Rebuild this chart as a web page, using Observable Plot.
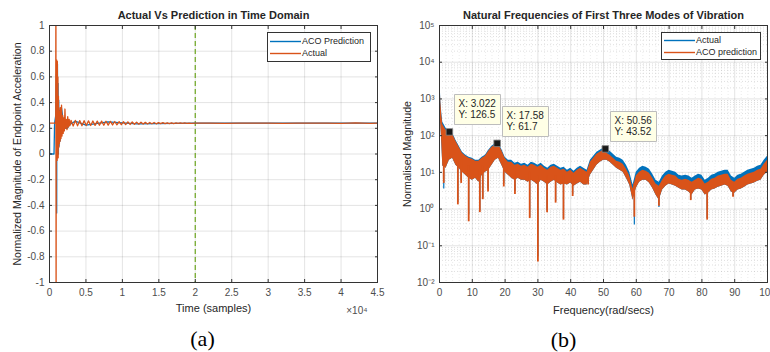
<!DOCTYPE html>
<html><head><meta charset="utf-8">
<script src="https://cdn.jsdelivr.net/npm/d3@7"></script>
<script src="https://cdn.jsdelivr.net/npm/@observablehq/plot@0.6"></script>
<style>
html,body{margin:0;padding:0;background:#fff;}
body{width:770px;height:352px;overflow:hidden;position:relative;font-family:"Liberation Sans",Arial,sans-serif;}
.panel{position:absolute;top:0;}
.legend{position:absolute;background:#fff;border:1px solid #333;font-size:9px;color:#262626;box-sizing:border-box;}
.row{position:absolute;left:0;height:12px;line-height:12px;white-space:nowrap;}
.row svg{position:absolute;left:2px;top:0;}
.row span.tx{position:absolute;left:34px;top:0;}
</style></head><body>
<div class="panel" id="left" style="left:0"></div>
<div class="panel" id="right" style="left:385px"></div>
<div class="legend" style="left:267px;top:32px;width:104px;height:30px">
  <div class="row" style="top:2px"><svg width="31" height="12"><line x1="0" x2="31" y1="6.5" y2="6.5" stroke="#0072BD" stroke-width="1.4"/></svg><span class="tx">ACO Prediction</span></div>
  <div class="row" style="top:14px"><svg width="31" height="12"><line x1="0" x2="31" y1="6.5" y2="6.5" stroke="#D95319" stroke-width="1.4"/></svg><span class="tx">Actual</span></div>
</div>
<div class="legend" style="left:661px;top:32px;width:100px;height:28px">
  <div class="row" style="top:1px"><svg width="31" height="12"><line x1="0" x2="31" y1="6.5" y2="6.5" stroke="#0072BD" stroke-width="1.4"/></svg><span class="tx">Actual</span></div>
  <div class="row" style="top:13px"><svg width="31" height="12"><line x1="0" x2="31" y1="6.5" y2="6.5" stroke="#D95319" stroke-width="1.4"/></svg><span class="tx">ACO prediction</span></div>
</div>
<script>
// ---------- Panel (a): time domain ----------
const timeTicks = [0, 5000, 10000, 15000, 20000, 25000, 30000, 35000, 40000, 45000];
const accTicks = [-1, -0.8, -0.6, -0.4, -0.2, 0, 0.2, 0.4, 0.6, 0.8, 1];
const dashTime = [20000];

const actualT = [0, 850, 880, 905, 930, 965, 1000, 1040, 1075, 1110, 1150, 1190, 1230, 1270, 1310, 1360, 1410, 1460, 1520, 1580, 1650, 1720, 1800, 1880, 1960, 2040, 2120, 2200, 2300, 2400, 2500, 2600, 2700, 2800,
  2950, 3250, 3550, 3850, 4150, 4450, 4750, 5050, 5350, 5650, 5950, 6250, 6550, 6850, 7150, 7450, 7750, 8050, 8350, 8650, 8950, 9250, 9550, 9850, 10150, 10450, 10750, 11050, 11350, 11650, 11950, 12250, 12550, 12850, 13150, 13450, 13750, 14050, 14350, 14650, 14950, 15250, 15550, 15850, 16150, 16450, 16750, 17050, 17350, 17650, 17950, 18250, 18550, 18850, 19150, 19450,
  20000, 22000, 24000, 26000, 28000, 30000, 32000, 34000, 36000, 38000, 40000, 42000, 44000, 45000];
const actualV = [0.24, 0.24, 1.3, -1.3, 0.73, -0.02, 0.73, -0.05, 0.72, 0.02, 0.6, -0.03, 0.45, 0.05, 0.36, 0.08, 0.33, 0.1, 0.36, 0.12, 0.38, 0.14, 0.3, 0.16, 0.28, 0.18, 0.35, 0.2, 0.27, 0.19, 0.29, 0.21, 0.27, 0.22,
  0.262, 0.218, 0.261, 0.219, 0.26, 0.22, 0.259, 0.221, 0.258, 0.222, 0.257, 0.223, 0.256, 0.224, 0.256, 0.224, 0.255, 0.225, 0.254, 0.226, 0.253, 0.227, 0.252, 0.228, 0.251, 0.229, 0.25, 0.23, 0.249, 0.231, 0.248, 0.232, 0.247, 0.233, 0.246, 0.234, 0.245, 0.235, 0.245, 0.235, 0.244, 0.236, 0.244, 0.236, 0.243, 0.237, 0.243, 0.237, 0.242, 0.238, 0.242, 0.238, 0.242, 0.238, 0.241, 0.239,
  0.24, 0.241, 0.239, 0.241, 0.24, 0.241, 0.239, 0.241, 0.24, 0.241, 0.239, 0.242, 0.238, 0.241];

const predT = [0, 15, 620, 700, 860, 940, 985, 1010, 1050, 1090, 1130, 1170, 1220, 1260, 1310, 1370, 1440, 1530, 1650, 1800, 2000, 2400, 2800, 3500, 5000, 8000, 12000, 20000, 45000];
const predV = [0.24, 0, 0, 0.24, 0.3, 0.62, -0.46, 0.7, 0.0, 0.7, 0.05, 0.55, 0.0, 0.42, 0.06, 0.34, 0.1, 0.35, 0.36, 0.29, 0.2, 0.2, 0.23, 0.255, 0.225, 0.25, 0.235, 0.24, 0.24];

// ---------- Panel (b): frequency domain ----------
const freq = [0, 0.2, 0.4, 0.7, 1, 2, 3, 4, 5, 6, 7, 8, 9, 10, 11, 12, 13, 14, 15, 16, 17, 18, 19, 20, 21, 22, 23, 24, 25, 26, 27, 28, 29, 30, 31, 32, 33, 34, 35, 36, 37, 38, 39, 40, 41, 42, 43, 44, 45, 46, 47, 48, 49, 50, 51, 52, 53, 54, 55, 56, 57, 58, 59, 60, 61, 62, 63, 64, 65, 66, 67, 68, 69, 70, 71, 72, 73, 74, 75, 76, 77, 78, 79, 80, 81, 82, 83, 84, 85, 86, 87, 88, 89, 90, 91, 92, 93, 94, 95, 96, 97, 98, 99, 100];
const actualHi = [9900, 2500, 900, 400, 230, 159, 127, 116, 75, 51.6, 35.4, 29.4, 25.9, 24.3, 21.5, 21.5, 25.9, 29.4, 40.2, 51.6, 60, 62, 42, 25.9, 21.5, 21.5, 17.8, 18.9, 16.7, 17.8, 15.7, 18.9, 17.8, 15.7, 17.8, 14.7, 13.0, 15.7, 16.7, 14.7, 13.0, 13.8, 11.5, 13.0, 10.8, 13.0, 14.7, 13.0, 11.5, 21.5, 27.6, 35.4, 40.2, 45.5, 42.7, 37.7, 31.3, 25.9, 24.3, 21.5, 15.7, 10.1, 4.5, 10.1, 13.0, 14.7, 13.8, 12.2, 8.9, 6.1, 5.4, 7.9, 10.1, 11.5, 10.8, 10.1, 8.4, 7.9, 8.4, 7.9, 6.95, 7.9, 8.9, 8.4, 6.1, 6.95, 8.4, 8.9, 10.1, 10.8, 11.5, 11.5, 7.9, 6.95, 8.4, 8.9, 10.1, 11.5, 12.2, 13.0, 14.7, 15.7, 21.5, 27.6];
const predHi = [9000, 2200, 800, 350, 200, 140, 115, 109, 70.5, 48.4, 33.3, 27.6, 24.3, 22.9, 20.2, 20.2, 24.3, 27.6, 37.7, 48.4, 56, 58, 39, 24.3, 18.9, 18.9, 15.7, 16.7, 14.7, 15.7, 13.8, 16.7, 15.7, 13.8, 15.7, 13.0, 11.5, 13.8, 14.7, 13.0, 11.5, 12.2, 10.1, 11.5, 9.5, 11.5, 13.0, 11.5, 10.1, 18.9, 24.3, 31.3, 35.4, 40.2, 33.3, 29.4, 24.3, 20.2, 18.9, 16.7, 12.2, 7.9, 3.5, 7.9, 10.1, 11.5, 10.8, 9.5, 6.95, 4.8, 4.2, 6.1, 7.9, 8.9, 8.4, 7.9, 6.5, 6.1, 6.5, 6.1, 5.4, 6.1, 6.95, 6.5, 4.8, 5.4, 6.5, 6.95, 7.9, 8.4, 8.9, 8.9, 6.1, 5.4, 6.5, 6.95, 7.9, 8.9, 9.5, 10.1, 11.5, 12.2, 16.7, 21.5];
const predLo = [400, 300, 200, 60, 15, 13, 21.5, 24.3, 15.7, 13, 10.1, 8.4, 6.95, 6.1, 6.95, 5.4, 8.4, 10.1, 11.5, 15.7, 21.5, 24.3, 15.7, 10.1, 8.4, 6.95, 6.1, 6.95, 6.1, 6.1, 5.4, 6.1, 5.4, 4.5, 6.1, 5.4, 4.5, 5.4, 6.1, 5.1, 4.5, 4.8, 4.5, 5.1, 4.2, 4.8, 5.4, 4.5, 4.5, 8.4, 11.5, 15.7, 18.9, 21.5, 21.5, 18.9, 15.7, 13.0, 11.5, 10.1, 6.95, 4.5, 1.75, 3.7, 5.4, 6.1, 6.1, 5.1, 3.7, 2.4, 1.75, 3.3, 4.2, 4.8, 4.5, 4.2, 3.7, 3.3, 3.3, 2.9, 2.4, 3.3, 3.5, 3.3, 2.4, 2.7, 3.3, 3.5, 3.95, 4.2, 4.5, 4.2, 2.9, 2.7, 3.3, 3.5, 3.95, 4.5, 4.8, 5.1, 5.75, 6.1, 8.4, 10.1];

// deep narrow notches
const dipF = [1.3, 5.6, 6.6, 8.9, 12.3, 13.2, 14.8, 19.6, 23.0, 27.5, 30.0, 32.8, 35.4, 37.8, 40.6, 45.3, 59.4, 66.9, 76.6, 81.6, 89.5];
const dipActual = [3.5, 1.5, 6, 0.7, 0.9, 2, 3.5, 5, 3, 0.6, 0.05, 0.9, 1.6, 0.55, 2.5, 4.8, 0.37, 1.1, 1.8, 0.55, 2.2];
const dipPred = [5, 1.3, 5, 0.45, 0.8, 1.8, 2.9, 4, 2.5, 0.55, 0.036, 0.8, 1.45, 0.5, 2.2, 4.5, 0.6, 1.2, 1.7, 0.5, 2.1];
const dipTop = [60, 20, 30, 15, 12, 15, 15, 20, 10, 10, 8, 8, 8, 8, 8, 10, 5, 4, 5, 5, 5];

const tipX = [3.022, 17.58, 50.56];
const tipY = [126.5, 61.7, 43.52];

const freqTicks = [0, 10, 20, 30, 40, 50, 60, 70, 80, 90, 100];
const magTicks = [1e-2, 1e-1, 1e0, 1e1, 1e2, 1e3, 1e4, 1e5];

// ---------- helpers ----------
const BLUE = "#0072BD", RED = "#D95319", TICKC = "#4d4d4d", INK = "#262626";
const font = "'Liberation Sans', Arial, Helvetica, sans-serif";
const supMap = {"-": "\u207B", "0": "\u2070", "1": "\u00B9", "2": "\u00B2", "3": "\u00B3", "4": "\u2074", "5": "\u2075"};
const sup = s => String(s).split("").map(c => supMap[c] || c).join("");
const tsA = actualT.map((t, i) => ({t, v: actualV[i]}));
const tsP = predT.map((t, i) => ({t, v: predV[i]}));
const spec = freq.map((f, i) => ({f, aHi: actualHi[i], pHi: predHi[i], pLo: predLo[i]}));
const dips = dipF.map((f, i) => ({f, a: dipActual[i], p: dipPred[i], top: dipTop[i]}));
const tips = tipX.map((x, i) => ({x, y: tipY[i]}));

const minorY = [];
for (let e = -2; e < 5; e++) for (let k = 2; k < 10; k++) minorY.push(k * Math.pow(10, e));
const minorX = d3.range(0, 101, 2).filter(d => d % 10 !== 0);

function boxAxes(xt, yt, xfmt, yfmt) {
  return [
    Plot.frame({stroke: "#333", strokeWidth: 1}),
    Plot.axisX(xt, {anchor: "bottom", tickSize: 0, tickPadding: 6, tickFormat: xfmt, label: null, fill: TICKC, fontSize: 10}),
    Plot.axisX(xt, {anchor: "bottom", tickSize: -3, tickFormat: () => "", label: null, stroke: "#333"}),
    Plot.axisX(xt, {anchor: "top", tickSize: -3, tickFormat: () => "", label: null, stroke: "#333"}),
    Plot.axisY(yt, {anchor: "left", tickSize: 0, tickPadding: 5, tickFormat: yfmt, label: null, fill: TICKC, fontSize: 10}),
    Plot.axisY(yt, {anchor: "left", tickSize: -3, tickFormat: () => "", label: null, stroke: "#333"}),
    Plot.axisY(yt, {anchor: "right", tickSize: -3, tickFormat: () => "", label: null, stroke: "#333"})
  ];
}

const left = Plot.plot({
  width: 385, height: 352,
  marginLeft: 49, marginRight: 8, marginTop: 25, marginBottom: 70,
  style: {fontFamily: font, fontSize: "10px", overflow: "visible", background: "transparent", color: INK},
  x: {domain: [0, 45000]},
  y: {domain: [-1, 1]},
  marks: [
    Plot.gridX(timeTicks, {stroke: "#000", strokeOpacity: 0.11}),
    Plot.gridY(accTicks, {stroke: "#000", strokeOpacity: 0.11}),
    Plot.ruleX(dashTime, {stroke: "#77AC30", strokeWidth: 1.3, strokeDasharray: "5,3"}),
    Plot.line(tsP, {x: "t", y: "v", stroke: BLUE, strokeWidth: 1.3, clip: true}),
    Plot.line(tsA, {x: "t", y: "v", stroke: RED, strokeWidth: 1.3, clip: true}),
    ...boxAxes(timeTicks, accTicks, d => String(d / 1e4), d => String(Math.round(d * 10) / 10)),
    Plot.text(["Actual Vs Prediction in Time Domain"], {frameAnchor: "top", dy: -10, lineAnchor: "middle", fontWeight: "bold", fontSize: 11, fill: INK}),
    Plot.text(["Time (samples)"], {frameAnchor: "bottom", dy: 26, lineAnchor: "middle", fontSize: 11, fill: INK}),
    Plot.text(["\u00D710" + sup(4)], {frameAnchor: "bottom-right", dx: -10, dy: 28, lineAnchor: "middle", textAnchor: "end", fontSize: 10, fill: TICKC}),
    Plot.text(["Normalized Magnitude of Endpoint Acceleration"], {frameAnchor: "left", dx: -32, rotate: -90, lineAnchor: "middle", textAnchor: "middle", fontSize: 10.6, fill: INK}),
    Plot.text(["(a)"], {frameAnchor: "bottom", dx: -11, dy: 56, lineAnchor: "middle", fontSize: 22, fontFamily: "'Liberation Serif', 'Times New Roman', serif", fill: "#000"})
  ]
});
document.getElementById("left").appendChild(left);

const right = Plot.plot({
  width: 385, height: 352,
  marginLeft: 54, marginRight: 3, marginTop: 25, marginBottom: 70,
  style: {fontFamily: font, fontSize: "10px", overflow: "visible", background: "transparent", color: INK},
  x: {domain: [0, 100]},
  y: {type: "log", domain: [1e-2, 1e5]},
  marks: [
    Plot.gridY(minorY, {stroke: "#000", strokeOpacity: 0.13, strokeDasharray: "1,2"}),
    Plot.gridX(minorX, {stroke: "#000", strokeOpacity: 0.08, strokeDasharray: "1,2"}),
    Plot.gridX(freqTicks, {stroke: "#000", strokeOpacity: 0.11}),
    Plot.gridY(magTicks, {stroke: "#000", strokeOpacity: 0.11}),
    Plot.areaY(spec, {x: "f", y1: "pLo", y2: "aHi", fill: BLUE, clip: true}),
    Plot.ruleX(dips, {x: "f", y1: "a", y2: "top", stroke: BLUE, strokeWidth: 1.2, clip: true}),
    Plot.areaY(spec, {x: "f", y1: "pLo", y2: "pHi", fill: RED, clip: true}),
    Plot.ruleX(dips, {x: "f", y1: "p", y2: "top", stroke: RED, strokeWidth: 1.8, clip: true}),
    ...boxAxes(freqTicks, magTicks, d => String(d), d => "10" + sup(Math.round(Math.log10(d)))),
    Plot.dot(tips, {x: "x", y: "y", symbol: "square", r: 3.7, fill: "#1a1a1a", stroke: "#888", strokeWidth: 0.8}),
    Plot.tip(tips, {x: "x", y: "y", title: d => `X: ${d.x}\nY: ${d.y}`, anchor: "bottom-left", pointerSize: 0, dx: 5, dy: -7,
      fill: "#ffffe6", stroke: "#bdbdbd", fontSize: 10, textPadding: 4, lineHeight: 1.1, pathFilter: "none", fontFamily: font}),
    Plot.text(["Natural Frequencies of First Three Modes of Vibration"], {frameAnchor: "top", dy: -10, lineAnchor: "middle", fontWeight: "bold", fontSize: 11, fill: INK}),
    Plot.text(["Frequency(rad/secs)"], {frameAnchor: "bottom", dy: 28, lineAnchor: "middle", fontSize: 11, fill: INK}),
    Plot.text(["Normalised Magnitude"], {frameAnchor: "left", dx: -32, rotate: -90, lineAnchor: "middle", textAnchor: "middle", fontSize: 10.6, fill: INK}),
    Plot.text(["(b)"], {frameAnchor: "bottom", dx: -40, dy: 57, lineAnchor: "middle", fontSize: 22, fontFamily: "'Liberation Serif', 'Times New Roman', serif", fill: "#000"})
  ]
});
document.getElementById("right").appendChild(right);
</script>
</body></html>
